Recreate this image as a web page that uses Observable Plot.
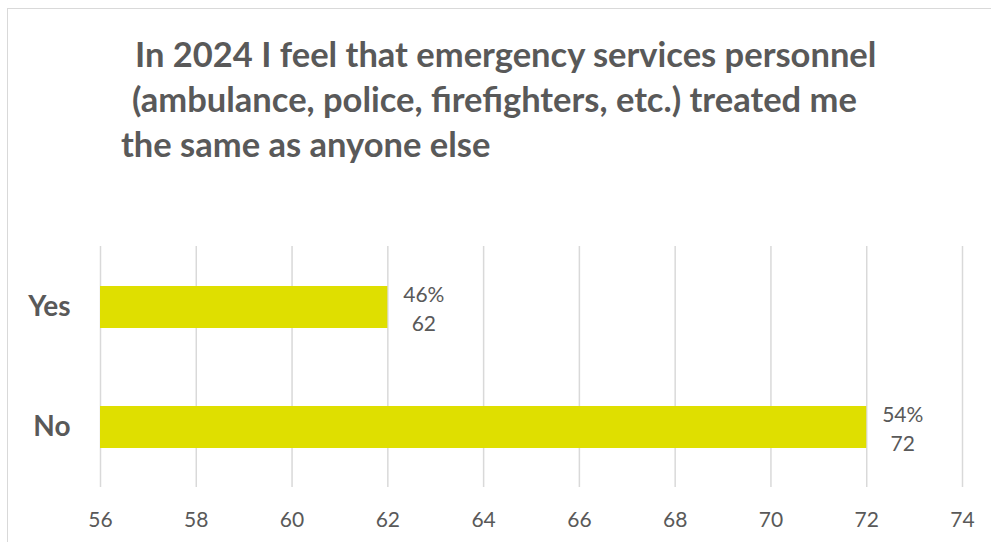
<!DOCTYPE html>
<html>
<head>
<meta charset="utf-8">
<script src="https://cdn.jsdelivr.net/npm/d3@7"></script>
<script src="https://cdn.jsdelivr.net/npm/@observablehq/plot@0.6"></script>
<style>
  html, body { margin: 0; padding: 0; background: #fff; }
  #wrap { position: relative; width: 991px; height: 542px; overflow: hidden; font-family: Lato, "Open Sans", sans-serif; }
  #frame { position: absolute; left: 7px; top: 8px; width: 1000px; height: 600px; border-left: 1.5px solid #d9d9d9; border-top: 1.5px solid #d9d9d9; }
  .tl { position: absolute; font-weight: bold; font-size: 34.5px; color: #595959; white-space: nowrap; line-height: 1; }
  #chart { position: absolute; left: 0; top: 200px; }
</style>
</head>
<body>
<div id="wrap">
  <div id="frame"></div>
  <div class="tl" style="left:135px; top:37px;">In 2024 I feel that emergency services personnel</div>
  <div class="tl" style="left:132px; top:82px;">(ambulance, police, firefighters, etc.) treated me</div>
  <div class="tl" style="left:121px; top:127px;">the same as anyone else</div>
  <div id="chart"></div>
</div>
<script>
const categories = ["Yes", "No"];
const counts = [62, 72];
const percents = ["46%", "54%"];
const xDomain = [56, 74];
const xTicks = [56, 58, 60, 62, 64, 66, 68, 70, 72, 74];

const data = categories.map((c, i) => ({ cat: c, value: counts[i], pct: percents[i] }));

const chart = Plot.plot({
  width: 991,
  height: 342,
  marginLeft: 100,
  marginRight: 29,
  marginTop: 46,
  marginBottom: 55,
  style: { fontFamily: "Lato, 'Open Sans', sans-serif", color: "#595959", background: "transparent" },
  x: { domain: xDomain, ticks: xTicks, label: null },
  y: { domain: categories, padding: 0, label: null },
  marks: [
    Plot.gridX(xTicks, { stroke: "#d9d9d9", strokeOpacity: 1, strokeWidth: 1.5 }),
    Plot.barX(data, { y: "cat", x1: () => xDomain[0], x2: "value", fill: "#dfdf00", insetTop: 39, insetBottom: 39 }),
    Plot.text(data, { y: "cat", x: "value", text: d => `${d.pct}\n${d.value}`, dx: 36, fontSize: 21, lineHeight: 1.38, fill: "#595959" }),
    Plot.axisX(xTicks, { tickSize: 0, tickPadding: 25, fontSize: 21, fill: "#595959", label: null, tickFormat: d => String(d) }),
    Plot.axisY({ tickSize: 0, tickPadding: 30, fontSize: 28, fontWeight: "bold", fill: "#595959", label: null })
  ]
});
document.getElementById("chart").appendChild(chart);
</script>
</body>
</html>
